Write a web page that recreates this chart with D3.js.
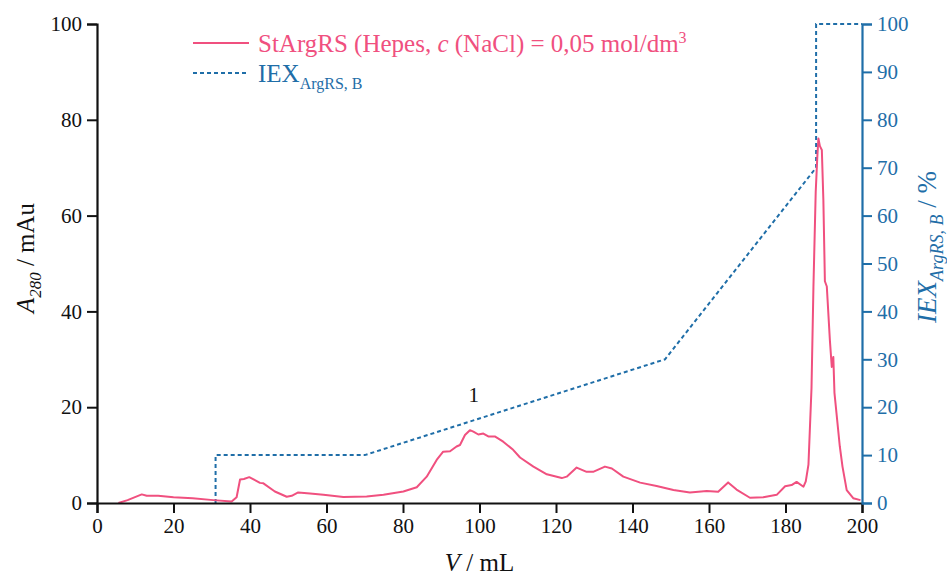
<!DOCTYPE html>
<html><head><meta charset="utf-8">
<script src="https://cdn.jsdelivr.net/npm/d3@7"></script>
<style>
body{margin:0;background:#fff;}
svg text{font-family:"Liberation Serif","Times New Roman",Times,"DejaVu Serif",serif;}
</style></head>
<body><svg id="c" width="947" height="578"></svg>
<script>
const absV = [5.6,8,11.7,13,16,20,25,30.4,35.2,36.5,37.4,38.4,39.8,40.8,42.6,43.5,46.5,49.6,50.9,52.6,55.7,59.2,64.4,70.5,74.9,80.1,83.6,86.2,88.8,90.5,92.3,94.0,94.9,96.2,97.5,98.4,99.7,101,102.3,104,106.2,108.8,110.6,114.1,117.6,121.5,122.8,125.4,128,129.7,132.8,134.6,137.6,142,146.3,150.7,155,159.4,162.4,165,167.2,170.7,174.2,177.7,179.9,181.6,182.9,184.7,185.3,186,186.8,187.3,187.9,188.3,188.6,189.0,189.5,189.9,190.3,190.8,191.6,192.1,192.5,192.8,194.2,194.9,196,197.7,199.6];
const absA = [0,0.6,1.8,1.5,1.5,1.2,1.0,0.6,0.3,1.2,4.9,5.0,5.4,5.0,4.2,4.1,2.4,1.3,1.5,2.2,2.0,1.7,1.25,1.35,1.7,2.4,3.3,5.5,9.0,10.7,10.8,11.8,12.1,14.2,15.2,14.9,14.3,14.5,13.9,13.9,12.8,11.1,9.5,7.6,6.0,5.2,5.5,7.4,6.5,6.5,7.6,7.2,5.5,4.25,3.55,2.7,2.2,2.5,2.35,4.3,2.8,1.1,1.2,1.7,3.5,3.75,4.4,3.4,4.5,8,24,45,65,72,76.1,74.5,73.7,63.2,46.3,45.2,34.0,28.4,30.5,23,11.8,7.6,2.7,1.0,0.6];
const gradV = [31,31,70,148.5,188,188,200];
const gradB = [0,10,10,30,70,100,100];
const xTicks = [0,20,40,60,80,100,120,140,160,180,200];
const leftTicks = [0,20,40,60,80,100];
const rightTicks = [0,10,20,30,40,50,60,70,80,90,100];

const PINK = "#f0507f", BLUE = "#1f6ea8";
const svg = d3.select("#c");
const m = {l:97, r:85, t:24, b:75};
const W = 947, H = 578;
const x = d3.scaleLinear().domain([0,200]).range([m.l, W-m.r]);
const yL = d3.scaleLinear().domain([0,100]).range([H-m.b, m.t]);
const yR = d3.scaleLinear().domain([0,100]).range([H-m.b, m.t]);

// gradient line
svg.append("path")
  .datum(gradV.map((v,i)=>[v,gradB[i]]))
  .attr("fill","none").attr("stroke",BLUE).attr("stroke-width",2)
  .attr("stroke-dasharray","4,3")
  .attr("d", d3.line().x(d=>x(d[0])).y(d=>yR(d[1])));

// absorbance line
svg.append("path")
  .datum(absV.map((v,i)=>[v,absA[i]]))
  .attr("fill","none").attr("stroke",PINK).attr("stroke-width",2)
  .attr("stroke-linejoin","round")
  .attr("d", d3.line().x(d=>x(d[0])).y(d=>yL(d[1])));

function styleAxis(g, color, fs){
  g.select(".domain").attr("stroke",color).attr("stroke-width",2.2);
  g.selectAll(".tick line").attr("stroke",color).attr("stroke-width",2);
  g.selectAll("text").attr("fill",color).attr("font-size",fs);
}
// x axis
const gx = svg.append("g").attr("transform",`translate(0,${H-m.b})`);
gx.call(d3.axisBottom(x).tickValues(d3.range(0,201,5)).tickSize(6).tickFormat(""));
gx.call(d3.axisBottom(x).tickValues(xTicks).tickSize(10).tickPadding(5).tickFormat(d3.format("d")));
styleAxis(gx,"#111",21);
// left axis
const gl = svg.append("g").attr("transform",`translate(${m.l},0)`);
gl.call(d3.axisLeft(yL).tickValues(d3.range(0,101,5)).tickSize(6).tickFormat(""));
gl.call(d3.axisLeft(yL).tickValues(leftTicks).tickSize(10).tickPadding(5).tickFormat(d3.format("d")));
styleAxis(gl,"#111",21);
// right axis
const gr = svg.append("g").attr("transform",`translate(${W-m.r},0)`);
gr.call(d3.axisRight(yR).tickValues(d3.range(0,101,5)).tickSize(6).tickFormat(""));
gr.call(d3.axisRight(yR).tickValues(rightTicks).tickSize(10).tickPadding(5).tickFormat(d3.format("d")));
styleAxis(gr,BLUE,21);

// axis titles
const xt = svg.append("text").attr("x",(m.l+W-m.r)/2).attr("y",571)
  .attr("text-anchor","middle").attr("font-size",25).attr("fill","#111");
xt.append("tspan").attr("font-style","italic").text("V");
xt.append("tspan").text(" / mL");

const lt = svg.append("text").attr("transform",`translate(34,258) rotate(-90)`)
  .attr("text-anchor","middle").attr("font-size",25).attr("fill","#111");
lt.append("tspan").attr("font-style","italic").text("A");
lt.append("tspan").attr("font-style","italic").attr("font-size",17).attr("dy",7).text("280");
lt.append("tspan").attr("dy",-7).text(" / mAu");

const rt = svg.append("text").attr("transform",`translate(936,247) rotate(-90)`)
  .attr("text-anchor","middle").attr("font-size",27).attr("fill",BLUE);
rt.append("tspan").attr("font-style","italic").text("IEX");
rt.append("tspan").attr("font-style","italic").attr("font-size",18).attr("dy",7).text("ArgRS, B");
rt.append("tspan").attr("dy",-7).text(" / %");

// legend
svg.append("line").attr("x1",193).attr("x2",249).attr("y1",43).attr("y2",43)
  .attr("stroke",PINK).attr("stroke-width",2);
const l1 = svg.append("text").attr("x",258).attr("y",52).attr("font-size",25).attr("fill",PINK);
l1.append("tspan").text("StArgRS (Hepes, ");
l1.append("tspan").attr("font-style","italic").text("c");
l1.append("tspan").text(" (NaCl) = 0,05 mol/dm");
l1.append("tspan").attr("font-size",16).attr("dy",-9).text("3");

svg.append("line").attr("x1",193).attr("x2",249).attr("y1",73).attr("y2",73)
  .attr("stroke",BLUE).attr("stroke-width",2).attr("stroke-dasharray","4,3");
const l2 = svg.append("text").attr("x",258).attr("y",82).attr("font-size",25).attr("fill",BLUE);
l2.append("tspan").text("IEX");
l2.append("tspan").attr("font-size",16).attr("dy",7).text("ArgRS, B");

// peak label
svg.append("text").attr("x",x(98.5)).attr("y",402).attr("text-anchor","middle")
  .attr("font-size",21).attr("fill","#111").text("1");
</script></body></html>
